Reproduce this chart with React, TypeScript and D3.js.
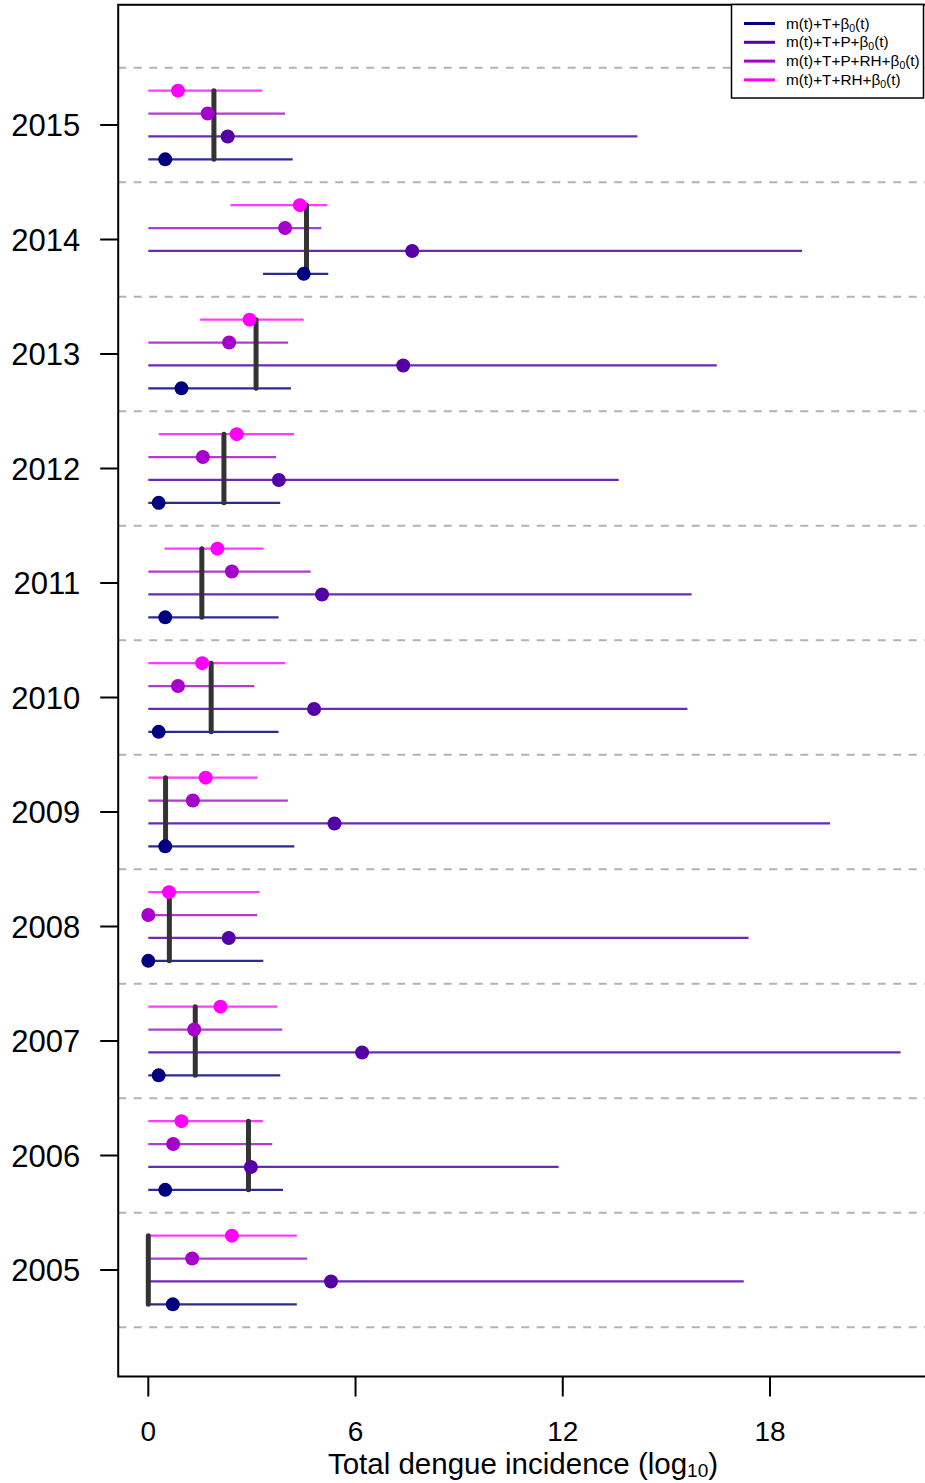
import React from "react";
import * as d3 from "d3";

// Years shown on the vertical axis (bottom to top)
const years = [2005, 2006, 2007, 2008, 2009, 2010, 2011, 2012, 2013, 2014, 2015];

// Observed total incidence (log10) per year
const observed = [0, 2.9, 1.36, 0.61, 0.5, 1.82, 1.55, 2.19, 3.12, 4.58, 1.9];

// m(t)+T+β0(t)
const tPoint = [0.71, 0.49, 0.3, 0.0, 0.49, 0.3, 0.49, 0.3, 0.96, 4.5, 0.49];
const tLow = [0, 0, 0, 0, 0, 0, 0, 0, 0, 3.32, 0];
const tHigh = [4.3, 3.9, 3.82, 3.33, 4.23, 3.77, 3.77, 3.82, 4.13, 5.21, 4.18];

// m(t)+T+P+β0(t)
const tpPoint = [5.29, 2.97, 6.19, 2.33, 5.39, 4.8, 5.03, 3.78, 7.38, 7.64, 2.3];
const tpLow = [0, 0, 0, 0, 0, 0, 0, 0, 0, 0, 0];
const tpHigh = [17.24, 11.88, 21.78, 17.38, 19.74, 15.61, 15.73, 13.62, 16.46, 18.93, 14.16];

// m(t)+T+P+RH+β0(t)
const tprhPoint = [1.27, 0.72, 1.33, 0.0, 1.29, 0.86, 2.42, 1.58, 2.34, 3.96, 1.72];
const tprhLow = [0, 0, 0, 0, 0, 0, 0, 0, 0, 0, 0];
const tprhHigh = [4.6, 3.59, 3.88, 3.15, 4.04, 3.07, 4.7, 3.7, 4.05, 5.01, 3.96];

// m(t)+T+RH+β0(t)
const trhPoint = [2.42, 0.96, 2.09, 0.6, 1.66, 1.56, 2.0, 2.56, 2.93, 4.39, 0.86];
const trhLow = [0, 0, 0, 0, 0, 0, 0.47, 0.3, 1.5, 2.38, 0];
const trhHigh = [4.3, 3.32, 3.73, 3.22, 3.16, 3.96, 3.34, 4.22, 4.5, 5.18, 3.3];

const xTicks = [0, 6, 12, 18];

const models = [
  { label: "m(t)+T+", sub: "0", color: "#000080", lineColor: "#2b2b95", offset: -0.3, point: tPoint, low: tLow, high: tHigh },
  { label: "m(t)+T+P+", sub: "0", color: "#5500a6", lineColor: "#6a2ab5", offset: -0.1, point: tpPoint, low: tpLow, high: tpHigh },
  { label: "m(t)+T+P+RH+", sub: "0", color: "#a600cc", lineColor: "#b03ccf", offset: 0.1, point: tprhPoint, low: tprhLow, high: tprhHigh },
  { label: "m(t)+T+RH+", sub: "0", color: "#ff00ff", lineColor: "#ff3cff", offset: 0.3, point: trhPoint, low: trhLow, high: trhHigh },
];

const W = 925;
const H = 1483;
const FONT = "'Liberation Sans', Arial, Helvetica, sans-serif";

export default function App() {
  const x = d3.scaleLinear().domain([0, 18]).range([148.3, 770]);
  const y = d3.scaleLinear().domain([2005, 2015]).range([1270, 125]);
  const left = x(-0.871);
  const right = x(23.52);
  const top = y(2016.05);
  const bottom = y(2004.07);

  return (
    <svg width={W} height={H} style={{ position: "absolute", left: 0, top: 0, background: "#fff" }} fontFamily={FONT}>
      <defs>
        <clipPath id="plotArea">
          <rect x={left} y={top} width={right - left} height={bottom - top} />
        </clipPath>
      </defs>

      <g clipPath="url(#plotArea)">
        {/* separators between years */}
        {[...years.map((yr) => yr - 0.5), years[years.length - 1] + 0.5].map((v) => (
          <line key={"sep" + v} x1={left} x2={right} y1={y(v)} y2={y(v)} stroke="#b3b3b3" strokeWidth={2} strokeDasharray="8,7.5" />
        ))}

        {/* credible interval lines */}
        {models.map((m) =>
          years.map((yr, i) => (
            <line key={m.label + "ci" + yr} x1={x(m.low[i])} x2={x(m.high[i])} y1={y(yr + m.offset)} y2={y(yr + m.offset)} stroke={m.lineColor} strokeWidth={2.2} />
          ))
        )}

        {/* observed incidence */}
        {years.map((yr, i) => (
          <line key={"obs" + yr} x1={x(observed[i])} x2={x(observed[i])} y1={y(yr + 0.3)} y2={y(yr - 0.3)} stroke="#333333" strokeWidth={5} strokeLinecap="round" />
        ))}

        {/* point estimates */}
        {models.map((m) =>
          years.map((yr, i) => (
            <circle key={m.label + "pt" + yr} cx={x(m.point[i])} cy={y(yr + m.offset)} r={7} fill={m.color} />
          ))
        )}
      </g>

      {/* plot frame */}
      <rect x={left} y={top} width={right - left} height={bottom - top} fill="none" stroke="#000" strokeWidth={2} />

      {/* y axis */}
      {years.map((yr) => (
        <g key={"yt" + yr}>
          <line x1={left - 18} x2={left} y1={y(yr)} y2={y(yr)} stroke="#000" strokeWidth={2} />
          <text x={left - 38} y={y(yr)} dy="0.36em" textAnchor="end" fontSize={31} fill="#000">
            {yr}
          </text>
        </g>
      ))}

      {/* x axis */}
      {xTicks.map((t) => (
        <g key={"xt" + t}>
          <line x1={x(t)} x2={x(t)} y1={bottom} y2={bottom + 20} stroke="#000" strokeWidth={2} />
          <text x={x(t)} y={1441} textAnchor="middle" fontSize={28} fill="#000">
            {t}
          </text>
        </g>
      ))}
      <text x={523} y={1474} textAnchor="middle" fontSize={29.5} fill="#000">
        Total dengue incidence (log<tspan fontSize={19} dy={3}>10</tspan><tspan dy={-3}>)</tspan>
      </text>

      {/* legend */}
      <g>
        <rect x={731.5} y={4.5} width={192} height={93.5} fill="#fff" stroke="#000" strokeWidth={1.5} />
        {models.map((m, i) => {
          const ly = 23.5 + i * 18.8;
          return (
            <g key={"lg" + m.label}>
              <line x1={744} x2={775} y1={ly} y2={ly} stroke={m.color} strokeWidth={3} />
              <text x={786} y={ly} dy="0.33em" fontSize={15.3} fill="#000">
                {m.label}β<tspan fontSize={10.5} dy={3}>{m.sub}</tspan><tspan dy={-3}>(t)</tspan>
              </text>
            </g>
          );
        })}
      </g>
    </svg>
  );
}
